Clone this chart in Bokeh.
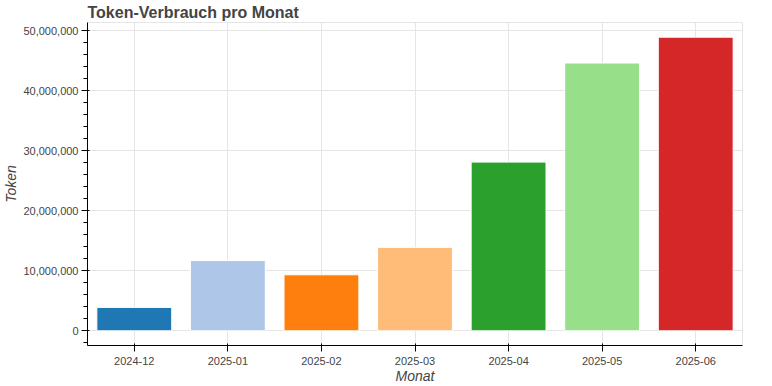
from bokeh.plotting import figure
from bokeh.models import ColumnDataSource, NumeralTickFormatter
from bokeh.embed import file_html
from bokeh.resources import INLINE

months = ["2024-12", "2025-01", "2025-02", "2025-03", "2025-04", "2025-05", "2025-06"]
tokens = [3900000, 11700000, 9330000, 13900000, 28100000, 44600000, 48900000]
colors = ["#1f77b4", "#aec7e8", "#ff7f0e", "#ffbb78", "#2ca02c", "#98df8a", "#d62728"]

source = ColumnDataSource(dict(months=months, tokens=tokens, colors=colors))

FONT = "Liberation Sans"

p = figure(x_range=months, frame_width=655, frame_height=323, title="Token-Verbrauch pro Monat",
           output_backend="svg", toolbar_location=None,
           min_border_top=0, min_border_bottom=0, min_border_left=0, min_border_right=5)
p.vbar(x="months", top="tokens", width=0.8, fill_color="colors", line_color="white", source=source)

p.title.text_font = FONT
p.title.text_font_size = "16px"
p.title.standoff = 3
p.xaxis.axis_label = "Monat"
p.yaxis.axis_label = "Token"
for ax in (p.xaxis, p.yaxis):
    ax.axis_label_text_font = FONT
    ax.major_label_text_font = FONT
    ax.axis_label_text_font_size = "14px"
p.xaxis.axis_label_standoff = 0
p.yaxis.axis_label_standoff = 1
p.yaxis.major_label_standoff = 3
p.yaxis.formatter = NumeralTickFormatter(format="0,0")
p.xgrid.grid_line_color = "#e5e5e5"
p.ygrid.grid_line_color = "#e5e5e5"

open("out.html", "w").write(file_html(p, INLINE))
